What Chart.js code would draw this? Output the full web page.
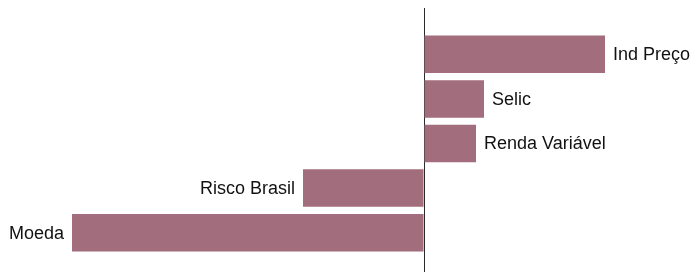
<!DOCTYPE html>
<html>
<head>
<meta charset="utf-8">
<script src="https://cdn.jsdelivr.net/npm/chart.js@4"></script>
<style>
  html, body { margin: 0; padding: 0; background: #fff; }
  #wrap { width: 692px; height: 273px; position: relative; }
</style>
</head>
<body>
<div id="wrap"><canvas id="myChart"></canvas></div>
<script>
// categories and values
const categories = ['Ind Preço', 'Selic', 'Renda Variável', 'Risco Brasil', 'Moeda'];
const values = [1.81, 0.60, 0.52, -1.21, -3.52];
const xMin = -4.24;
const xMax = 2.68;

const barColor = '#a26d7c';
const axisColor = '#2b2b2b';

// draw category names next to the bar ends
const barLabels = {
    id: 'barLabels',
    afterDatasetsDraw(chart) {
        const ctx = chart.ctx;
        const meta = chart.getDatasetMeta(0);
        ctx.save();
        ctx.font = '18px "Liberation Sans", Arial, sans-serif';
        ctx.fillStyle = '#111';
        ctx.textBaseline = 'middle';
        meta.data.forEach((bar, i) => {
            if (values[i] >= 0) {
                ctx.textAlign = 'left';
                ctx.fillText(categories[i], bar.x + 8, bar.y + 1);
            } else {
                ctx.textAlign = 'right';
                ctx.fillText(categories[i], bar.x - 8, bar.y + 1);
            }
        });
        ctx.restore();
    }
};

const zeroOnly = (c) => c.tick && c.tick.value === 0 ? axisColor : 'rgba(0,0,0,0)';

const ctx = document.getElementById('myChart').getContext('2d');
const myChart = new Chart(ctx, {
    type: 'bar',
    data: {
        labels: categories,
        datasets: [{
            data: values,
            backgroundColor: barColor,
            borderWidth: 0,
            barPercentage: 0.84,
            categoryPercentage: 1
        }]
    },
    options: {
        indexAxis: 'y',
        responsive: true,
        maintainAspectRatio: false,
        animation: false,
        layout: { padding: { top: 8, bottom: 1, left: 0, right: 0 } },
        plugins: {
            legend: { display: false },
            tooltip: { enabled: false }
        },
        scales: {
            y: { display: false },
            x: {
                position: 'bottom',
                min: xMin,
                max: xMax,
                ticks: { display: false, stepSize: 1 },
                border: { display: false },
                grid: { color: zeroOnly, lineWidth: 1, drawTicks: true, tickLength: 17 }
            },
            x2: {
                axis: 'x',
                position: 'top',
                min: xMin,
                max: xMax,
                ticks: { display: false, stepSize: 1 },
                border: { display: false },
                grid: { color: zeroOnly, lineWidth: 1, drawTicks: true, tickLength: 24, drawOnChartArea: false }
            }
        }
    },
    plugins: [barLabels]
});
</script>
</body>
</html>
